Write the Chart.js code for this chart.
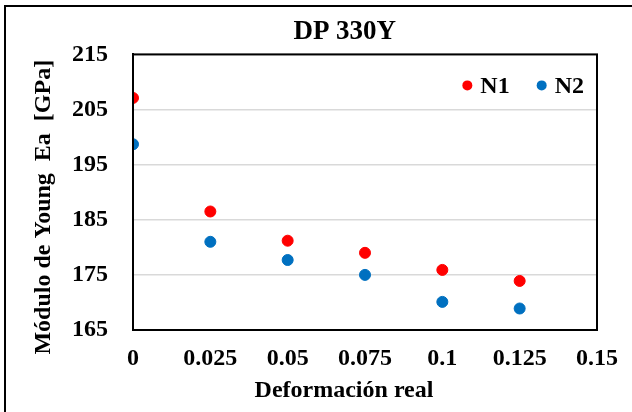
<!DOCTYPE html>
<html>
<head>
<meta charset="utf-8">
<script src="https://cdn.jsdelivr.net/npm/chart.js@4"></script>
<style>
  html, body { margin: 0; padding: 0; background: #fff; }
  #wrap { width: 632px; height: 412px; position: relative; }
</style>
</head>
<body>
<div id="wrap"><canvas id="chart" width="632" height="412"></canvas></div>
<script>
// strain values (x) and Young modulus for each sample
const strain = [0, 0.025, 0.05, 0.075, 0.1, 0.125];
const n1 = [207.1, 186.5, 181.2, 179.0, 175.9, 173.9];
const n2 = [198.7, 181.0, 177.7, 175.0, 170.1, 168.9];
const xTicks = ['0', '0.025', '0.05', '0.075', '0.1', '0.125', '0.15'];
const yTicks = ['165', '175', '185', '195', '205', '215'];

const serif = 'Liberation Serif, Times New Roman, serif';
const pad = '\u00A0';

// white background, the cut frame round the figure, box round the plot
// and the legend sitting inside the plot area (top right)
const frame = {
  id: 'frame',
  beforeDraw(chart) {
    const ctx = chart.ctx;
    ctx.save();
    ctx.fillStyle = '#fff';
    ctx.fillRect(0, 0, chart.width, chart.height);
    ctx.strokeStyle = '#000';
    ctx.lineWidth = 2;
    ctx.beginPath();
    ctx.moveTo(5, chart.height);
    ctx.lineTo(5, 6);
    ctx.lineTo(chart.width, 6);
    ctx.stroke();
    ctx.restore();
  },
  afterDraw(chart) {
    const a = chart.chartArea;
    const ctx = chart.ctx;
    ctx.save();
    ctx.strokeStyle = '#000';
    ctx.lineWidth = 2;
    ctx.strokeRect(a.left, a.top, a.right - a.left, a.bottom - a.top);

    ctx.font = 'bold 24px ' + serif;
    ctx.textBaseline = 'middle';
    ctx.textAlign = 'left';
    const y = a.top + 31;
    const sets = chart.data.datasets;
    const gap = 27, dotToText = 18;
    let w = 0;
    sets.forEach((d, i) => {
      w += dotToText + ctx.measureText(d.label).width + (i < sets.length - 1 ? gap : 0);
    });
    let x = a.right - 13 - w;
    sets.forEach(d => {
      ctx.fillStyle = d.backgroundColor;
      ctx.beginPath();
      ctx.arc(x + 5, y, 5, 0, Math.PI * 2);
      ctx.fill();
      ctx.fillStyle = '#000';
      ctx.fillText(d.label, x + dotToText, y + 1);
      x += dotToText + ctx.measureText(d.label).width + gap;
    });
    ctx.restore();
  }
};

const toPts = ys => ys.map((y, i) => ({ x: strain[i], y: y }));

new Chart(document.getElementById('chart'), {
  type: 'scatter',
  data: {
    datasets: [
      {
        label: 'N1',
        data: toPts(n1),
        backgroundColor: '#FF0000',
        borderColor: '#FF0000',
        pointRadius: 5.5,
        pointHoverRadius: 5.5
      },
      {
        label: 'N2',
        data: toPts(n2),
        backgroundColor: '#0070C0',
        borderColor: '#0070C0',
        pointRadius: 5.5,
        pointHoverRadius: 5.5
      }
    ]
  },
  options: {
    responsive: false,
    animation: false,
    layout: { padding: { left: 25, right: 32, top: 0, bottom: 3 } },
    plugins: {
      title: {
        display: true,
        fullSize: false,
        text: 'DP 330Y' + pad.repeat(6),
        color: '#000',
        font: { family: serif, size: 27, weight: 'bold', lineHeight: 1.2 },
        padding: { top: 16, bottom: 6 }
      },
      legend: { display: false },
      tooltip: { enabled: false }
    },
    scales: {
      x: {
        type: 'linear',
        min: 0,
        max: 0.15,
        afterFit(s) { s.height = 79; },
        afterBuildTicks(s) {
          s.ticks = xTicks.map(t => ({ value: parseFloat(t) }));
        },
        ticks: {
          color: '#000',
          padding: 14,
          maxRotation: 0,
          autoSkip: false,
          font: { family: serif, size: 24, weight: 'bold' },
          callback: (v, i) => xTicks[i]
        },
        grid: { display: false, drawTicks: false },
        border: { color: '#000', width: 2 },
        title: {
          display: true,
          text: 'Deformación real' + pad.repeat(7),
          color: '#000',
          font: { family: serif, size: 24, weight: 'bold', lineHeight: 1.2 }
        }
      },
      y: {
        min: 165,
        max: 215,
        afterFit(s) { s.width = 108; },
        afterBuildTicks(s) {
          s.ticks = yTicks.map(t => ({ value: Number(t) }));
        },
        ticks: {
          color: '#000',
          padding: 25,
          font: { family: serif, size: 24, weight: 'bold' },
          callback: (v, i) => yTicks[i]
        },
        grid: { color: '#D9D9D9', lineWidth: 1.5, drawTicks: false },
        border: { color: '#000', width: 2 },
        title: {
          display: true,
          text: 'Módulo de Young  Ea  [GPa]' + pad.repeat(5),
          color: '#000',
          font: { family: serif, size: 24, weight: 'bold', lineHeight: 1.2 }
        }
      }
    }
  },
  plugins: [frame]
});
</script>
</body>
</html>
